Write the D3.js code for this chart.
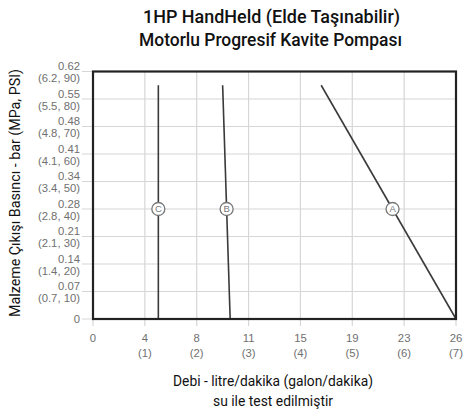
<!DOCTYPE html>
<html><head><meta charset="utf-8">
<script src="https://cdn.jsdelivr.net/npm/d3@7"></script>
<style>body{margin:0;background:#fff}</style>
</head><body><svg id="c" width="465" height="412"></svg>
<script>
// Data (flow in gpm, pressure in PSI)
const xTicksLpm = ["0","4","8","11","15","19","23","26"];
const xTicksGpm = [0,1,2,3,4,5,6,7];
const yTicksMain = ["0","0.07","0.14","0.21","0.28","0.34","0.41","0.48","0.55","0.62"];
const yTicksSub = ["","(0.7, 10)","(1.4, 20)","(2.1, 30)","(2.8, 40)","(3.4, 50)","(4.1, 60)","(4.8, 70)","(5.5, 80)","(6.2, 90)"];
const yTicksPsi = [0,10,20,30,40,50,60,70,80,90];
const seriesNames = ["A","B","C"];
const seriesA = [{gpm:4.40,psi:85},{gpm:7.0,psi:0}];
const seriesB = [{gpm:2.50,psi:85},{gpm:2.645,psi:0}];
const seriesC = [{gpm:1.26,psi:85},{gpm:1.26,psi:0}];
const labelPsi = 40;

const svg = d3.select("#c");
const L=93,R=456,T=71.5,B=319;
const x = d3.scaleLinear().domain([0,7]).range([L,R]);
const y = d3.scaleLinear().domain([0,90]).range([B,T]);
const tickFont = "'Liberation Sans', Arial, sans-serif";
const gray="#707070";

// grid
svg.append("g").selectAll("line").data(xTicksGpm).join("line")
  .attr("x1",d=>x(d)).attr("x2",d=>x(d)).attr("y1",T).attr("y2",B+7)
  .attr("stroke","#d6d6d6").attr("stroke-width",1.2);
svg.append("g").selectAll("line").data(yTicksPsi).join("line")
  .attr("y1",d=>y(d)).attr("y2",d=>y(d)).attr("x1",L-11).attr("x2",R)
  .attr("stroke","#d6d6d6").attr("stroke-width",1.2);

// y tick labels
const yl = svg.append("g").attr("font-family",tickFont).attr("font-size",11.3).attr("fill",gray).attr("text-anchor","end");
yTicksPsi.forEach((p,i)=>{
  if(i===0){
    yl.append("text").attr("x",80).attr("y",y(p)+4).text(yTicksMain[i]);
  } else {
    yl.append("text").attr("x",80).attr("y",y(p)-1.5).text(yTicksMain[i]);
    yl.append("text").attr("x",80).attr("y",y(p)+10.5).text(yTicksSub[i]);
  }
});
// x tick labels
const xl = svg.append("g").attr("font-family",tickFont).attr("font-size",11.3).attr("fill",gray).attr("text-anchor","middle");
xTicksGpm.forEach((g,i)=>{
  xl.append("text").attr("x",x(g)).attr("y",341.5).text(xTicksLpm[i]);
  if(i>0) xl.append("text").attr("x",x(g)).attr("y",356.5).text("("+g+")");
});

// lines
const line = d3.line().x(d=>x(d.gpm)).y(d=>y(d.psi));
const all=[seriesA,seriesB,seriesC];
all.forEach(s=>{
  svg.append("path").attr("d",line(s)).attr("fill","none").attr("stroke","#3a3a3a").attr("stroke-width",1.6);
});
// frame
svg.append("rect").attr("x",L).attr("y",T).attr("width",R-L).attr("height",B-T)
  .attr("fill","none").attr("stroke","#222").attr("stroke-width",2.2);

// circle labels
all.forEach((s,i)=>{
  const a=s[0],b=s[1];
  const t=(labelPsi-a.psi)/(b.psi-a.psi);
  const g=a.gpm+t*(b.gpm-a.gpm);
  const cx=x(g),cy=y(labelPsi);
  svg.append("circle").attr("cx",cx).attr("cy",cy).attr("r",6.5).attr("fill","#fff").attr("stroke","#777").attr("stroke-width",1.3);
  svg.append("text").attr("x",cx).attr("y",cy+3.4).attr("text-anchor","middle").attr("font-family",tickFont)
    .attr("font-size",9.5).attr("fill","#777").text(seriesNames[i]);
});

// titles
const tf="Roboto,'DejaVu Sans Condensed',sans-serif";
function txt(xx,yy,s,size,w,len){
  return svg.append("text").attr("x",xx).attr("y",yy).attr("text-anchor","middle").attr("font-family",tf)
    .attr("font-weight",w).attr("font-size",size).attr("fill","#111")
    .attr("textLength",len).attr("lengthAdjust","spacingAndGlyphs").text(s);
}
txt(271.5,23,"1HP HandHeld (Elde Taşınabilir)",17.5,500,257);
txt(270.5,45.5,"Motorlu Progresif Kavite Pompası",17.5,500,263);
svg.append("text").attr("transform","translate(19.5,193) rotate(-90)").attr("text-anchor","middle").attr("font-family",tf)
  .attr("font-size",15).attr("fill","#111").attr("textLength",248).attr("lengthAdjust","spacingAndGlyphs")
  .text("Malzeme Çıkışı Basıncı - bar (MPa, PSI)");
txt(273,386,"Debi - litre/dakika (galon/dakika)",14.5,400,200);
txt(273,405.5,"su ile test edilmiştir",14.5,400,120);
</script></body></html>
